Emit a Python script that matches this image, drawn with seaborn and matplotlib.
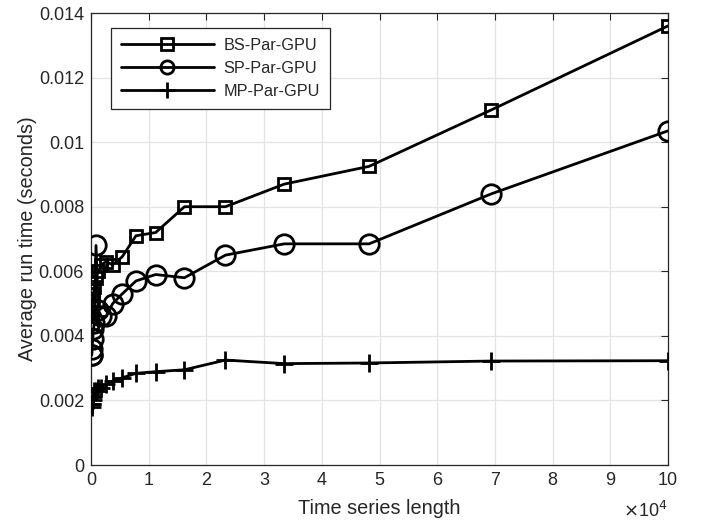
import matplotlib
matplotlib.use("Agg")
import matplotlib.pyplot as plt
from matplotlib.ticker import FuncFormatter, MultipleLocator
import numpy as np
import pandas as pd
import seaborn as sns

# Time series lengths (number of samples)
lengths = [100, 141, 200, 290, 420, 600, 870, 1260, 1810, 2610, 3760, 5410,
           7790, 11200, 16200, 23300, 33500, 48200, 69400, 100000]

# Average run times (seconds)
bs_par_gpu = [0.0044, 0.0046, 0.0049, 0.0051, 0.0053, 0.0055, 0.0058, 0.0060,
              0.0062, 0.0063, 0.0062, 0.00645, 0.0071, 0.0072, 0.0080, 0.0080,
              0.0087, 0.00925, 0.0110, 0.0136]
sp_par_gpu = [0.0034, 0.0034, 0.0036, 0.0039, 0.0042, 0.0044, 0.0068, 0.0048,
              0.0046, 0.0046, 0.0050, 0.0053, 0.0057, 0.0059, 0.0058, 0.0065,
              0.00685, 0.00685, 0.0084, 0.01035]
mp_par_gpu = [0.0018, 0.0019, 0.0019, 0.0020, 0.0021, 0.0023, 0.0023, 0.0024,
              0.0024, 0.0025, 0.0026, 0.0027, 0.00284, 0.00289, 0.00295, 0.00325,
              0.00314, 0.00316, 0.00322, 0.00323]

series_names = ["BS-Par-GPU", "SP-Par-GPU", "MP-Par-GPU"]

df = pd.DataFrame({
    "length": lengths * 3,
    "time": bs_par_gpu + sp_par_gpu + mp_par_gpu,
    "method": np.repeat(series_names, len(lengths)),
})

sns.set_style("white")
plt.rcParams["font.family"] = ["Liberation Sans", "DejaVu Sans"]
plt.rcParams["font.size"] = 13

TEXT = "#262626"

fig = plt.figure(figsize=(7.01, 5.21), dpi=100)
ax = fig.add_axes([91 / 701, 1 - 465 / 521, 577 / 701, 452 / 521])

styles = {
    "BS-Par-GPU": dict(marker="s", markersize=8.5),
    "SP-Par-GPU": dict(marker="o", markersize=14),
    "MP-Par-GPU": dict(marker="+", markersize=13),
}

for name in series_names:
    sub = df[df["method"] == name]
    st = styles[name]
    sns.lineplot(data=sub, x="length", y="time", ax=ax, color="black",
                 linewidth=2.0, marker=st["marker"], markersize=st["markersize"],
                 markerfacecolor="none", markeredgecolor="black",
                 markeredgewidth=2.0, label=name, sort=False, estimator=None,
                 zorder=3)

ax.set_xlim(0, 100000)
ax.set_ylim(0, 0.014)
ax.xaxis.set_major_locator(MultipleLocator(10000))
ax.yaxis.set_major_locator(MultipleLocator(0.002))
ax.xaxis.set_major_formatter(FuncFormatter(lambda v, p: f"{v / 1e4:g}"))
ax.yaxis.set_major_formatter(FuncFormatter(lambda v, p: f"{v:g}"))

ax.grid(True, color="#e3e3e3", linewidth=0.9)
ax.set_axisbelow(True)
for sp in ax.spines.values():
    sp.set_color(TEXT)
    sp.set_linewidth(0.9)
ax.tick_params(direction="in", length=5, width=0.8, colors=TEXT,
               top=True, right=True, labelsize=13, pad=5)

ax.set_xlabel("Time series length", fontsize=14.3, color=TEXT, labelpad=7)
ax.set_ylabel("Average run time (seconds)", fontsize=14.3, color=TEXT, labelpad=1)

fig.text(623 / 701, 1 - 517 / 521, r"$\times$10$^4$", fontsize=13, color=TEXT,
         ha="left", va="baseline")

leg = ax.legend(loc="upper left", bbox_to_anchor=((111 - 91) / 577, (465 - 28) / 452),
                borderaxespad=0, frameon=True, fancybox=False, framealpha=1,
                edgecolor=TEXT, handlelength=5.7, handletextpad=0.6,
                labelspacing=0.48, borderpad=0.62, fontsize=11.7)
leg.get_frame().set_linewidth(0.9)
for h in leg.legend_handles:
    m = h.get_marker()
    if m == "o":
        h.set_markersize(9.5)
    elif m == "s":
        h.set_markersize(8)
    elif m == "+":
        h.set_markersize(12)

fig.savefig("out.png", dpi=100)
